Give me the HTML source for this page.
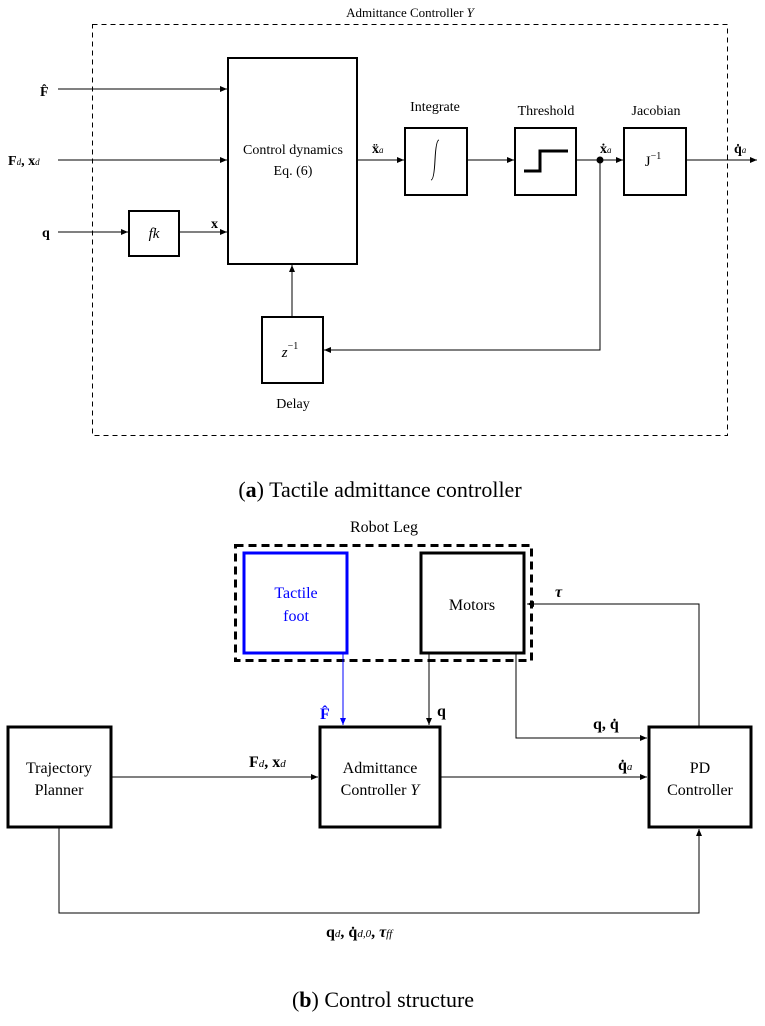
<!DOCTYPE html>
<html><head><meta charset="utf-8"><style>
body{margin:0;background:#fff}
svg text{font-family:"Liberation Serif",serif}
</style></head><body>
<svg width="765" height="1021" viewBox="0 0 765 1021" xmlns="http://www.w3.org/2000/svg">
<defs>
<marker id="a" markerWidth="8" markerHeight="8" refX="7" refY="4" orient="auto" markerUnits="userSpaceOnUse"><path d="M0,1 L7,4 L0,7z" fill="#000"/></marker>
<marker id="b" markerWidth="8" markerHeight="8" refX="7" refY="4" orient="auto" markerUnits="userSpaceOnUse"><path d="M0,1 L7,4 L0,7z" fill="#00f"/></marker>
</defs>
<g fill="none" stroke="#000">
<rect x="92.5" y="24.5" width="635" height="411" stroke-dasharray="5,4"/>
<g stroke-width="2">
<rect x="228" y="58" width="129" height="206"/>
<rect x="405" y="128" width="62" height="67"/>
<rect x="515" y="128" width="61" height="67"/>
<rect x="624" y="128" width="62" height="67"/>
<rect x="129" y="211" width="50" height="45"/>
<rect x="262" y="317" width="61" height="66"/>
</g>
<path d="M524,171 H540 V151 H568" stroke-width="3"/>
<path d="M58,89 H227" marker-end="url(#a)"/>
<path d="M58,160 H227" marker-end="url(#a)"/>
<path d="M58,232 H128" marker-end="url(#a)"/>
<path d="M179,232 H227" marker-end="url(#a)"/>
<path d="M357,160 H404" marker-end="url(#a)"/>
<path d="M467,160 H514" marker-end="url(#a)"/>
<path d="M576,160 H623" marker-end="url(#a)"/>
<path d="M686,160 H757" marker-end="url(#a)"/>
<path d="M600,160 V350 H324" marker-end="url(#a)"/>
<path d="M292,317 V265" marker-end="url(#a)"/>
</g>
<circle cx="600" cy="160" r="3.5"/>
<path d="M431,180 q3,0 4,-20 q1,-20 4,-20" fill="none" stroke="#000"/>
<g font-size="14" text-anchor="middle">
<text x="410" y="17" font-size="13">Admittance Controller <tspan font-style="italic">Y</tspan></text>
<text x="435" y="111">Integrate</text>
<text x="546" y="115">Threshold</text>
<text x="656" y="115">Jacobian</text>
<text x="293" y="154">Control dynamics</text>
<text x="293" y="175">Eq. (6)</text>
<text x="293" y="408">Delay</text>
<text x="653" y="166" font-size="15">J<tspan font-size="10" dy="-7">−1</tspan></text>
<text x="290" y="357" font-style="italic" font-size="15">z<tspan font-size="10" dy="-8" font-style="normal">−1</tspan></text>
<text x="154" y="238" font-style="italic" font-size="15">fk</text>
</g>
<g font-size="14" font-weight="bold">
<text x="40" y="96">F̂</text>
<text x="8" y="165">F<tspan font-size="9" font-style="italic" font-weight="normal">d</tspan>, x<tspan font-size="9" font-style="italic" font-weight="normal">d</tspan></text>
<text x="42" y="237">q</text>
<text x="211" y="228">x</text>
<text x="372" y="153">ẍ<tspan font-size="9" font-style="italic" font-weight="normal">a</tspan></text>
<text x="600" y="153">ẋ<tspan font-size="9" font-style="italic" font-weight="normal">a</tspan></text>
<text x="734" y="153">q̇<tspan font-size="9" font-style="italic" font-weight="normal">a</tspan></text>
</g>
<text x="380" y="497" font-size="22" text-anchor="middle">(<tspan font-weight="bold">a</tspan>) Tactile admittance controller</text>
<text x="383" y="1007" font-size="22" text-anchor="middle">(<tspan font-weight="bold">b</tspan>) Control structure</text>
<text x="384" y="532" font-size="16" text-anchor="middle">Robot Leg</text>
<rect x="235.5" y="545.5" width="296" height="115" fill="none" stroke="#000" stroke-width="3" stroke-dasharray="8,5"/>
<rect x="244" y="553" width="103" height="100" fill="none" stroke="#00f" stroke-width="3"/>
<g fill="none" stroke="#000" stroke-width="3">
<rect x="421" y="553" width="103" height="100"/>
<rect x="8" y="727" width="103" height="100"/>
<rect x="320" y="727" width="120" height="100"/>
<rect x="649" y="727" width="102" height="100"/>
</g>
<g fill="none" stroke="#000">
<path d="M343,654 V725" stroke="#00f" marker-end="url(#b)"/>
<path d="M429,654 V725" marker-end="url(#a)"/>
<path d="M516,654 V738 H647" marker-end="url(#a)"/>
<path d="M699,726 V604 H527" marker-end="url(#a)"/>
<path d="M111,777 H318" marker-end="url(#a)"/>
<path d="M440,777 H647" marker-end="url(#a)"/>
<path d="M59,828 V913 H699 V829" marker-end="url(#a)"/>
</g>
<g font-size="16" text-anchor="middle">
<text x="296" y="598" fill="#00f">Tactile</text>
<text x="296" y="621" fill="#00f">foot</text>
<text x="472" y="610">Motors</text>
<text x="59" y="773">Trajectory</text>
<text x="59" y="795">Planner</text>
<text x="380" y="773">Admittance</text>
<text x="380" y="795">Controller <tspan font-style="italic">Y</tspan></text>
<text x="700" y="773">PD</text>
<text x="700" y="795">Controller</text>
</g>
<g font-size="16" font-weight="bold">
<text x="320" y="719" fill="#00f">F̂</text>
<text x="437" y="716">q</text>
<text x="555" y="597" font-style="italic">τ</text>
<text x="593" y="729">q, q̇</text>
<text x="249" y="767">F<tspan font-size="11" font-style="italic" font-weight="normal">d</tspan>, x<tspan font-size="11" font-style="italic" font-weight="normal">d</tspan></text>
<text x="618" y="770">q̇<tspan font-size="11" font-style="italic" font-weight="normal">a</tspan></text>
<text x="326" y="937">q<tspan font-size="11" font-style="italic" font-weight="normal">d</tspan>, q̇<tspan font-size="11" font-style="italic" font-weight="normal">d,0</tspan>, <tspan font-style="italic">τ</tspan><tspan font-size="11" font-style="italic" font-weight="normal">ff</tspan></text>
</g>
</svg>
</body></html>
